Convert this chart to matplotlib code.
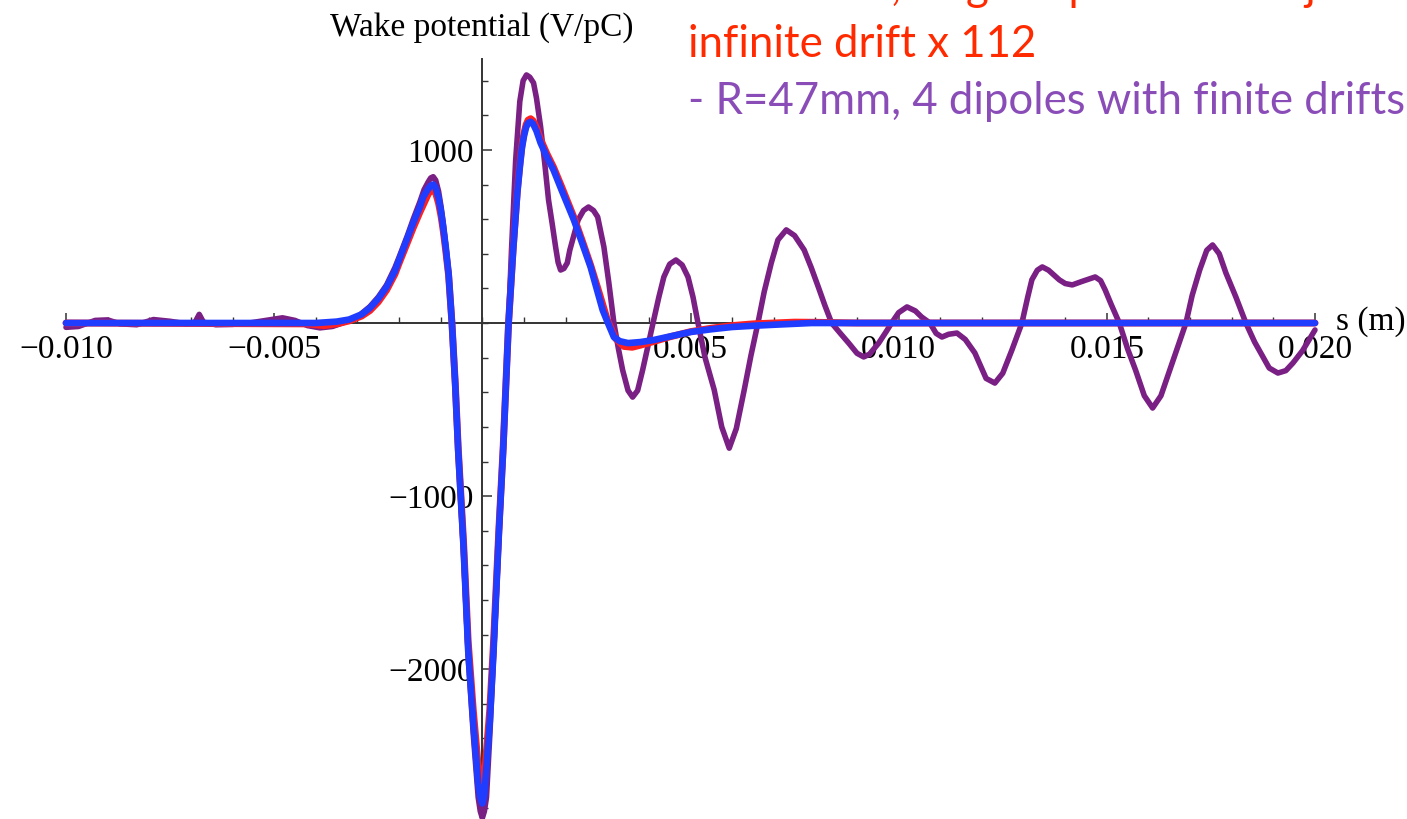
import matplotlib
matplotlib.use('Agg')
import matplotlib.pyplot as plt
from matplotlib.ticker import FixedLocator, MultipleLocator, FixedFormatter


# wake potential vs. s, single dipole (scaled x112) and 4-dipole model
s_blue = [-0.0100, -0.0040, -0.0035, -0.0032, -0.0029, -0.0027, -0.0025, -0.0023,
          -0.0021, -0.0020, -0.0018, -0.00166, -0.0015, -0.00142, -0.0013, -0.00124,
          -0.00118, -0.00112, -0.00105, -0.00099, -0.00094, -0.00088, -0.00081,
          -0.00073, -0.00065, -0.00058, -0.00045, -0.00034, -0.00022, -0.0001,
          -0.00005, 0.0, 0.00004, 0.00007, 0.00018, 0.00027, 0.0004, 0.0005, 0.00063,
          0.00074, 0.00084, 0.0009, 0.00095, 0.001, 0.00105, 0.0011, 0.00116, 0.00122,
          0.0013, 0.0014, 0.00155, 0.00171, 0.0019, 0.0022, 0.0024, 0.0026, 0.00289,
          0.0030, 0.00316, 0.0033, 0.0035, 0.0038, 0.00412, 0.0045, 0.0050, 0.0055,
          0.0060, 0.0065, 0.0070, 0.0079, 0.0200]
v_blue = [0, 0, 8, 20, 50, 87, 140, 208,
          300, 364, 490, 578, 670, 728, 775, 793,
          800, 780, 720, 640, 555, 440, 283,
          0, -360, -734, -1300, -1890, -2300, -2660,
          -2740, -2775, -2740, -2660, -2300, -1890, -1200, -734, 0,
          420, 751, 900, 1010, 1080, 1130, 1155, 1162, 1150,
          1110, 1040, 960, 884, 770, 595, 460, 324, 75,
          10, -81, -105, -116, -110, -98, -78, -52, -36,
          -23, -16, -10, 0, 0]

s_red = [-0.0100, -0.0042, -0.0038, -0.0035, -0.0032, -0.0029, -0.0027, -0.0025,
         -0.0023, -0.0021, -0.0020, -0.0018, -0.00166, -0.0015, -0.0013, -0.00124,
         -0.00118, -0.00112, -0.00105, -0.00099, -0.00094, -0.00088, -0.00081,
         -0.00073, -0.00065, -0.00058, -0.00045, -0.00034, -0.00022, -0.0001,
         -0.00005, 0.0, 0.00004, 0.00007, 0.00018, 0.00027, 0.0004, 0.0005, 0.00063,
         0.00074, 0.00084, 0.0009, 0.00095, 0.001, 0.00105, 0.0011, 0.00116, 0.00122,
         0.0013, 0.0014, 0.00155, 0.00171, 0.0019, 0.0022, 0.0024, 0.0026, 0.0028,
         0.0030, 0.0032, 0.0034, 0.0036, 0.0038, 0.0041, 0.0045, 0.0050, 0.0055,
         0.0060, 0.0065, 0.0070, 0.0075, 0.0080, 0.0090, 0.0200]
v_red = [0, -5, -15, -5, 12, 40, 72, 122,
         190, 282, 345, 465, 550, 640, 745, 765,
         770, 750, 690, 615, 535, 420, 275,
         0, -350, -720, -1270, -1840, -2230, -2560,
         -2630, -2650, -2630, -2560, -2230, -1840, -1180, -720, 0,
         430, 765, 915, 1025, 1095, 1145, 1172, 1180, 1168,
         1128, 1060, 978, 900, 790, 610, 475, 335, 180,
         20, -90, -135, -140, -128, -108, -80, -50, -30,
         -15, -5, 0, 5, 4, 0, 0]

s_purple = [-0.0100, -0.0097, -0.0093, -0.0090, -0.0087, -0.0083, -0.0079, -0.0075,
            -0.0071, -0.0069, -0.0068, -0.0067, -0.0064, -0.0060, -0.0056, -0.0052,
            -0.0048, -0.0045, -0.0042, -0.0039, -0.0036, -0.0033, -0.0030, -0.0027,
            -0.0025, -0.0023, -0.0021, -0.0020, -0.0018, -0.00166, -0.0015, -0.0014,
            -0.0013, -0.00124, -0.00118, -0.00112, -0.00105, -0.00099, -0.00094,
            -0.00088, -0.00081, -0.00073, -0.00065, -0.00058, -0.00045, -0.00034,
            -0.00022, -0.0001, -0.00005, 0.0, 0.00005, 0.0001, 0.00018, 0.00027,
            0.0004, 0.0005, 0.00063, 0.0007, 0.0008, 0.0009, 0.00098, 0.00106,
            0.00114, 0.00123, 0.0013, 0.0014, 0.0015, 0.00159, 0.00168, 0.00176,
            0.00182, 0.00188, 0.00196, 0.00204, 0.0021, 0.0023, 0.00243, 0.00255,
            0.00267, 0.00277, 0.00292, 0.00304, 0.00316, 0.00327, 0.00337, 0.0035,
            0.00361, 0.00373, 0.00385, 0.00397, 0.0041, 0.00424, 0.00436, 0.0045,
            0.00465, 0.0048, 0.00494, 0.00506, 0.00518, 0.00535, 0.00557, 0.00575,
            0.00593, 0.0061, 0.00629, 0.00645, 0.00662, 0.00677, 0.00694, 0.0071,
            0.0073, 0.0075, 0.00773, 0.0079, 0.00807, 0.00823, 0.00839, 0.0086,
            0.0088, 0.0090, 0.00916, 0.0093, 0.00952, 0.0097, 0.00983, 0.0100,
            0.0102, 0.0104, 0.01055, 0.01075, 0.0109, 0.01104, 0.0112, 0.0114,
            0.0116, 0.01183, 0.0121, 0.01231, 0.0125, 0.01272, 0.01296, 0.0131,
            0.0132, 0.01333, 0.01345, 0.0136, 0.01386, 0.0140, 0.01417, 0.0144,
            0.01472, 0.01485, 0.01496, 0.0151, 0.0153, 0.0155, 0.01569, 0.0159,
            0.0161, 0.0163, 0.01651, 0.0167, 0.0169, 0.01705, 0.01723, 0.0174,
            0.01754, 0.0177, 0.01786, 0.0181, 0.01834, 0.01855, 0.01875, 0.0189,
            0.01911, 0.0193, 0.01947, 0.0197, 0.0200]
v_purple = [-25, -20, 15, 18, -5, -10, 20, 10,
            -5, 5, 50, 5, -10, -8, 0, 15,
            30, 15, -15, -28, -20, 5, 35, 95,
            150, 220, 320, 380, 505, 600, 700, 770,
            815, 838, 845, 825, 760, 670, 580,
            450, 290, 0, -380, -750, -1330, -1930,
            -2370, -2740, -2820, -2860, -2820, -2740, -2380, -1930,
            -1230, -740, 0, 420, 940, 1280, 1400, 1433,
            1420, 1387, 1300, 1133, 920, 711, 570, 439,
            350, 306, 315, 347, 420, 595, 650, 670,
            650, 613, 439, 230, 0, -150, -272, -390,
            -428, -390, -272, -140, 0, 150, 266, 340,
            364, 335, 266, 150, 0, -200, -387, -600,
            -723, -610, -387, -190, 0, 180, 347, 480,
            538, 505, 422, 320, 208, 100, 0, -60,
            -116, -175, -196, -180, -116, -50, 0, 60,
            93, 70, 35, 0, -60, -81, -65, -58,
            -95, -173, -320, -347, -290, -156, 0, 150,
            250, 305, 324, 305, 249, 228, 220, 240,
            266, 245, 191, 110, 0, -150, -272, -420,
            -491, -420, -272, -140, 0, 160, 306, 420,
            451, 400, 289, 150, 0, -110, -196, -260,
            -289, -275, -231, -160, -40]

x_major = [-0.010, -0.005, 0.005, 0.010, 0.015, 0.020]
x_labels = ["\u22120.010", "\u22120.005", "0.005", "0.010", "0.015", "0.020"]
y_major = [-2000, -1000, 1000]
y_labels = ["\u22122000", "\u22121000", "1000"]

legend_lines = [("- R=45mm, single dipole with adjacent", "#ff2a00"),
                ("infinite drift x 112", "#ff2a00"),
                ("- R=47mm, 4 dipoles with finite drifts", "#8a4db8")]


def main():
    W, H = 1407, 819
    fig = plt.figure(figsize=(W / 100, H / 100), dpi=100)
    # axes box in pixels: x from 66 to 1315, y from 59 (top) to 819 (bottom)
    ax = fig.add_axes([66 / W, 0, 1249 / W, 760 / H])
    ax.set_xlim(-0.010, 0.020)
    ax.set_ylim(-2865, 1525)

    ax.plot(s_purple, v_purple, color="#7a1f84", lw=4.0, solid_joinstyle="round",
            solid_capstyle="round", clip_on=False, zorder=2)
    ax.plot(s_red, v_red, color="#ff2020", lw=5.0, solid_joinstyle="round",
            solid_capstyle="round", clip_on=False, zorder=3)
    ax.plot(s_blue, v_blue, color="#1f3cff", lw=4.8, solid_joinstyle="round",
            solid_capstyle="round", clip_on=False, zorder=4)

    serif = "Liberation Serif"
    for side in ("top", "right"):
        ax.spines[side].set_visible(False)
    for side in ("left", "bottom"):
        ax.spines[side].set_position(("data", 0))
        ax.spines[side].set_linewidth(1.4)
        ax.spines[side].set_color("#333333")
        ax.spines[side].set_zorder(1)

    ax.xaxis.set_major_locator(FixedLocator(x_major))
    ax.xaxis.set_major_formatter(FixedFormatter(x_labels))
    ax.xaxis.set_minor_locator(MultipleLocator(0.001))
    ax.yaxis.set_major_locator(FixedLocator(y_major))
    ax.yaxis.set_major_formatter(FixedFormatter(y_labels))
    ax.yaxis.set_minor_locator(MultipleLocator(200))
    ax.tick_params(which="major", direction="in", length=7, width=1.1,
                   color="#333333", labelsize=24, pad=6)
    ax.tick_params(which="minor", direction="in", length=4.3, width=1.0,
                   color="#333333")
    ax.tick_params(axis="x", pad=8)
    for lab in ax.get_xticklabels() + ax.get_yticklabels():
        lab.set_fontfamily(serif)

    fig.text(482 / W, 1 - 28 / H, "Wake potential (V/pC)", family=serif,
             fontsize=24, ha="center", va="center")
    fig.text(1336 / W, 1 - 322 / H, "s (m)", family=serif, fontsize=24,
             ha="left", va="center")

    for i, (txt, col) in enumerate(legend_lines):
        fig.text(688 / W, 1 - (0 + 57 * i) / H, txt, family="Lato", fontsize=31.5,
                 color=col, ha="left", va="baseline")

    fig.savefig("out.png", dpi=100)
    plt.close(fig)


if __name__ == "__main__":
    main()
